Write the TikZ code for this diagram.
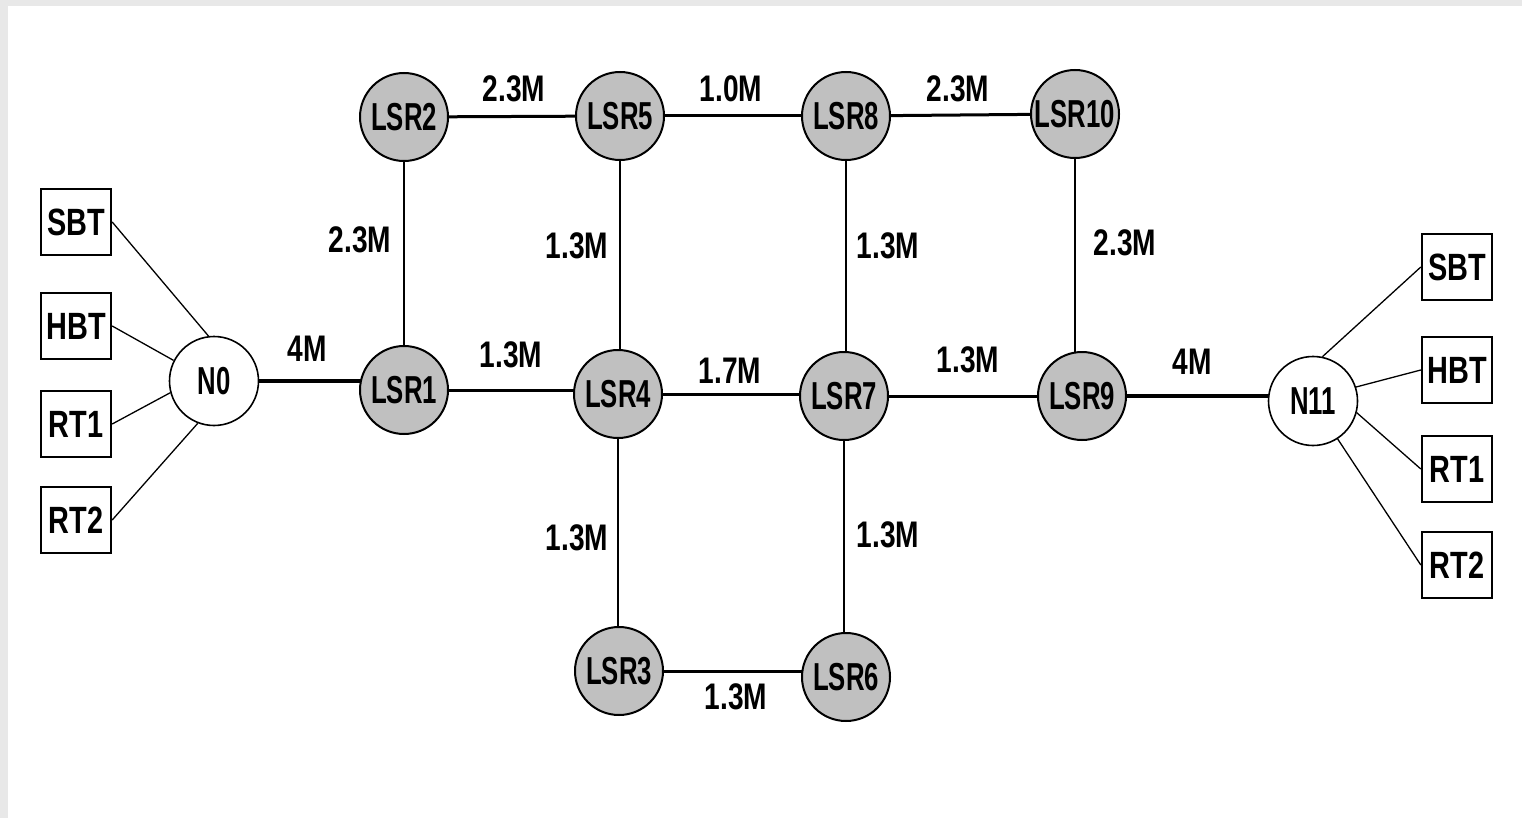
\documentclass[tikz,border=0pt]{standalone}
\usepackage{fontspec}
\setmainfont{Liberation Sans}[FakeStretch=0.76]
\newfontfamily\routerfont{Liberation Sans}[FakeStretch=0.66]
\usetikzlibrary{backgrounds}
\definecolor{framegray}{HTML}{E8E8E8}
\definecolor{routergray}{HTML}{C0C0C0}

\begin{document}
\begin{tikzpicture}[x=1pt,y=1pt,
  router/.style={circle, draw=black, line width=2pt, fill=routergray,
    minimum size=88pt, inner sep=0pt,
    font=\routerfont\fontsize{39}{39}\selectfont\bfseries},
  hub/.style={circle, draw=black, line width=1.6pt, fill=white,
    minimum size=89pt, inner sep=0pt,
    font=\routerfont\fontsize{39}{39}\selectfont\bfseries},
  host/.style={rectangle, draw=black, line width=2.4pt, fill=white,
    minimum width=70pt, minimum height=66pt, inner sep=0pt,
    font=\fontsize{38}{38}\selectfont\bfseries},
  lbl/.style={inner sep=0pt, font=\fontsize{37}{37}\selectfont\bfseries},
  feeder/.style={line width=1.3pt},
  link/.style={line width=2pt},
  trunk/.style={line width=3pt},
  uplink/.style={line width=4pt}
]
\useasboundingbox (0,0) rectangle (1522,-818);

% routers
\node[router] (LSR1)  at (404,-390)  {LSR1};
\node[router] (LSR2)  at (404,-117)  {LSR2};
\node[router] (LSR3)  at (619,-671)  {LSR3};
\node[router] (LSR4)  at (618,-394)  {LSR4};
\node[router] (LSR5)  at (620,-116)  {LSR5};
\node[router] (LSR6)  at (846,-677)  {LSR6};
\node[router] (LSR7)  at (844,-396)  {LSR7};
\node[router] (LSR9)  at (1082,-396) {LSR9};
\node[router] (LSR8)  at (846,-116)  {LSR8};
\node[router] (LSR10) at (1075,-114) {LSR10};

% edge nodes
\node[hub] (N0)  at (214,-381)  {N0};
\node[hub] (N11) at (1313,-401) {N11};

% traffic sources
\node[host] (SBTa) at (76,-222)   {SBT};
\node[host] (HBTa) at (76,-326)   {HBT};
\node[host] (RT1a) at (76,-424)   {RT1};
\node[host] (RT2a) at (76,-520)   {RT2};
\node[host] (SBTb) at (1457,-267) {SBT};
\node[host] (HBTb) at (1457,-370) {HBT};
\node[host] (RT1b) at (1457,-469) {RT1};
\node[host] (RT2b) at (1457,-565) {RT2};

% link bandwidths
\node[lbl] (b25)   at (514,-89)  {2.3M};
\node[lbl] (b58)   at (731,-89)  {1.0M};
\node[lbl] (b810)  at (958,-89)  {2.3M};
\node[lbl] (b21)   at (360,-240) {2.3M};
\node[lbl] (b54)   at (577,-246) {1.3M};
\node[lbl] (b87)   at (888,-246) {1.3M};
\node[lbl] (b109)  at (1125,-243){2.3M};
\node[lbl] (b01)   at (307,-349) {4M};
\node[lbl] (b14)   at (511,-355) {1.3M};
\node[lbl] (b47)   at (730,-371) {1.7M};
\node[lbl] (b79)   at (968,-360) {1.3M};
\node[lbl] (b911)  at (1192,-362){4M};
\node[lbl] (b43)   at (577,-538) {1.3M};
\node[lbl] (b76)   at (888,-535) {1.3M};
\node[lbl] (b36)   at (736,-697) {1.3M};

\begin{scope}[on background layer]
  \fill[framegray] (0,0) rectangle (1522,-818);
  \fill[white] (8,-6) rectangle (1522,-818);

  % backbone links
  \draw[trunk]  (LSR2) -- (LSR5);
  \draw[trunk]  (LSR5) -- (LSR8);
  \draw[trunk]  (LSR8) -- (LSR10);
  \draw[link]   (LSR2) -- (LSR2 |- LSR1);
  \draw[link]   (LSR5) -- (LSR5 |- LSR4);
  \draw[link]   (LSR8) -- (LSR8 |- LSR7);
  \draw[link]   (LSR10) -- (LSR10 |- LSR9);
  \draw[uplink] (N0) -- (N0 -| LSR1);
  \draw[trunk]  (LSR1) -- (LSR1 -| LSR4);
  \draw[trunk]  (LSR4) -- (LSR4 -| LSR7);
  \draw[trunk]  (LSR7) -- (LSR7 -| LSR9);
  \draw[uplink] (LSR9) -- (LSR9 -| N11);
  \draw[link]   (LSR4) -- (LSR4 |- LSR3);
  \draw[link]   (LSR7) -- (LSR7 |- LSR6);
  \draw[trunk]  (LSR3) -- (LSR3 -| LSR6);
\end{scope}

% source feeders
\draw[feeder] (SBTa.east) -- (N0.97);
\draw[feeder] (HBTa.east) -- (N0.153);
\draw[feeder] (RT1a.east) -- (N0.195);
\draw[feeder] (RT2a.east) -- (N0.249);
\draw[feeder] (SBTb.west) -- (N11.78);
\draw[feeder] (HBTb.west) -- (N11.18);
\draw[feeder] (RT1b.west) -- (N11.-15);
\draw[feeder] (RT2b.west) -- (N11.-57);
\end{tikzpicture}
\end{document}
